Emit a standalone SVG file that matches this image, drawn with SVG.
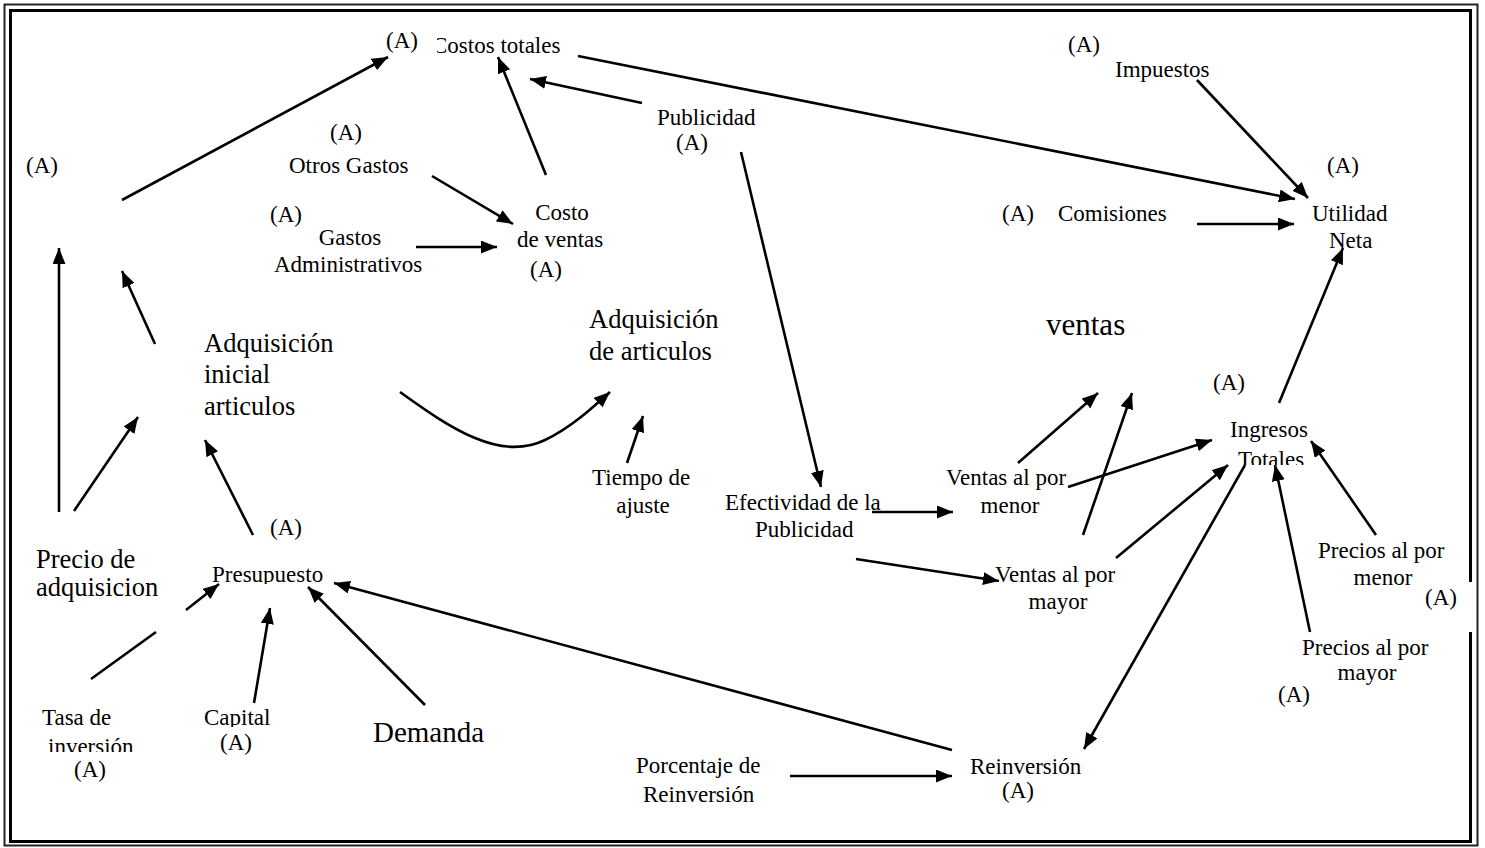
<svg xmlns="http://www.w3.org/2000/svg" width="1485" height="848" viewBox="0 0 1485 848">
  <style>
    text { font-family: "Liberation Serif", "Times New Roman", serif; fill: #000; }
    .s { font-size: 23px; }
    .l { font-size: 26.5px; }
    .c { text-anchor: middle; }
    .ln { stroke: #000; stroke-width: 2.6; fill: none; }
    .ar { marker-end: url(#head); }
  </style>
  <defs>
    <marker id="head" markerUnits="userSpaceOnUse" markerWidth="18" markerHeight="14" refX="16" refY="6.5" orient="auto">
      <path d="M0,0 L16,6.5 L0,13 Z" fill="#000"/>
    </marker>
    <clipPath id="clipCostos"><rect x="437" y="20" width="200" height="50"/></clipPath>
    <clipPath id="clipPresup"><rect x="200" y="555" width="140" height="29"/></clipPath>
    <clipPath id="clipTotales"><rect x="1230" y="445" width="90" height="20"/></clipPath>
    <clipPath id="clipCapital"><rect x="195" y="700" width="90" height="27"/></clipPath>
    <clipPath id="clipInversion"><rect x="40" y="730" width="110" height="22"/></clipPath>
  </defs>

  <rect width="1485" height="848" fill="#fff"/>

  <!-- double frame; inner line interrupted on the right -->
  <g id="frame" fill="none">
    <rect x="4.5" y="4.5" width="1473" height="841" stroke="#222" stroke-width="2"/>
    <path d="M1470.5,582 L1470.5,10.5 L10.5,10.5 L10.5,841.5 L1470.5,841.5 L1470.5,632" stroke="#000" stroke-width="3"/>
  </g>

  <!-- connectors -->
  <g id="connectors">
    <line class="ln ar" x1="122" y1="200" x2="388" y2="57"/>
    <line class="ln ar" x1="642" y1="103" x2="530" y2="79"/>
    <line class="ln ar" x1="546" y1="175" x2="498" y2="57"/>
    <line class="ln ar" x1="578" y1="56" x2="1295" y2="199"/>
    <line class="ln ar" x1="1197" y1="80" x2="1308" y2="198"/>
    <line class="ln ar" x1="1197" y1="224" x2="1294" y2="224"/>
    <line class="ln ar" x1="1279" y1="403" x2="1343" y2="248"/>
    <line class="ln ar" x1="432" y1="176" x2="513" y2="224"/>
    <line class="ln ar" x1="416" y1="247" x2="497" y2="247"/>
    <line class="ln ar" x1="741" y1="152" x2="821" y2="487"/>
    <line class="ln ar" x1="59" y1="512" x2="59" y2="248"/>
    <line class="ln ar" x1="155" y1="344" x2="122" y2="271"/>
    <line class="ln ar" x1="74" y1="511" x2="138" y2="417"/>
    <line class="ln ar" x1="253" y1="535" x2="205" y2="440"/>
    <path class="ln ar" d="M400,392 C450,428 500,462 545,440 C570,428 590,410 610,392"/>
    <line class="ln ar" x1="627" y1="463" x2="643" y2="416"/>
    <line class="ln ar" x1="872" y1="512" x2="953" y2="512"/>
    <line class="ln ar" x1="856" y1="559" x2="999" y2="581"/>
    <line class="ln ar" x1="1018" y1="463" x2="1098" y2="393"/>
    <line class="ln ar" x1="1083" y1="535" x2="1132" y2="393"/>
    <line class="ln ar" x1="1068" y1="487" x2="1212" y2="440"/>
    <line class="ln ar" x1="1116" y1="558" x2="1228" y2="465"/>
    <line class="ln ar" x1="1245" y1="465" x2="1084" y2="749"/>
    <line class="ln ar" x1="1376" y1="535" x2="1311" y2="441"/>
    <line class="ln ar" x1="1310" y1="632" x2="1275" y2="465"/>
    <line class="ln ar" x1="952" y1="750" x2="334" y2="583"/>
    <line class="ln ar" x1="790" y1="776" x2="952" y2="776"/>
    <line class="ln" x1="91" y1="679" x2="156" y2="632"/>
    <line class="ln ar" x1="186" y1="610" x2="219" y2="584"/>
    <line class="ln ar" x1="254" y1="703" x2="270" y2="608"/>
    <line class="ln ar" x1="425" y1="705" x2="308" y2="587"/>
  </g>

  <!-- nodes -->
  <g id="costos-totales">
    <text class="s" x="386" y="48">(A)</text>
    <text class="s" x="432" y="53" clip-path="url(#clipCostos)">Costos totales</text>
  </g>
  <g id="publicidad">
    <text class="s" x="657" y="125">Publicidad</text>
    <text class="s" x="676" y="150">(A)</text>
  </g>
  <g id="otros-gastos">
    <text class="s" x="330" y="140">(A)</text>
    <text class="s" x="289" y="173">Otros Gastos</text>
  </g>
  <g id="nodo-a-izq">
    <text class="s" x="26" y="173">(A)</text>
  </g>
  <g id="gastos-administrativos">
    <text class="s" x="270" y="222">(A)</text>
    <text class="s c" x="350" y="245">Gastos</text>
    <text class="s" x="274" y="272">Administrativos</text>
  </g>
  <g id="costo-ventas">
    <text class="s c" x="562" y="220">Costo</text>
    <text class="s" x="517" y="247">de ventas</text>
    <text class="s" x="530" y="277">(A)</text>
  </g>
  <g id="impuestos">
    <text class="s" x="1068" y="52">(A)</text>
    <text class="s" x="1115" y="77">Impuestos</text>
  </g>
  <g id="comisiones">
    <text class="s" x="1002" y="221">(A)</text>
    <text class="s" x="1058" y="221">Comisiones</text>
  </g>
  <g id="utilidad-neta">
    <text class="s" x="1327" y="173">(A)</text>
    <text class="s" x="1312" y="221">Utilidad</text>
    <text class="s" x="1329" y="248">Neta</text>
  </g>
  <g id="adquisicion-inicial">
    <text class="l" x="204" y="352">Adquisición</text>
    <text class="l" x="204" y="383">inicial</text>
    <text class="l" x="204" y="415">articulos</text>
  </g>
  <g id="adquisicion-articulos">
    <text class="l" x="589" y="328">Adquisición</text>
    <text class="l" x="589" y="360">de articulos</text>
  </g>
  <g id="ventas">
    <text x="1046" y="335" style="font-size:31px">ventas</text>
  </g>
  <g id="precio-adquisicion">
    <text class="l" x="36" y="568">Precio de</text>
    <text class="l" x="36" y="596">adquisicion</text>
  </g>
  <g id="presupuesto">
    <text class="s" x="270" y="535">(A)</text>
    <text class="s" x="212" y="582" clip-path="url(#clipPresup)">Presupuesto</text>
  </g>
  <g id="tiempo-ajuste">
    <text class="s" x="592" y="485">Tiempo de</text>
    <text class="s c" x="643" y="513">ajuste</text>
  </g>
  <g id="efectividad-publicidad">
    <text class="s" x="725" y="510">Efectividad de la</text>
    <text class="s" x="755" y="537">Publicidad</text>
  </g>
  <g id="ventas-menor">
    <text class="s" x="946" y="485">Ventas al por</text>
    <text class="s c" x="1010" y="513">menor</text>
  </g>
  <g id="ventas-mayor">
    <text class="s" x="995" y="582">Ventas al por</text>
    <text class="s c" x="1058" y="609">mayor</text>
  </g>
  <g id="ingresos-totales">
    <text class="s" x="1213" y="390">(A)</text>
    <text class="s" x="1230" y="437">Ingresos</text>
    <text class="s" x="1238" y="467" clip-path="url(#clipTotales)">Totales</text>
  </g>
  <g id="precios-menor">
    <text class="s" x="1318" y="558">Precios al por</text>
    <text class="s c" x="1383" y="585">menor</text>
    <text class="s" x="1425" y="605">(A)</text>
  </g>
  <g id="precios-mayor">
    <text class="s" x="1302" y="655">Precios al por</text>
    <text class="s c" x="1367" y="680">mayor</text>
    <text class="s" x="1278" y="702">(A)</text>
  </g>
  <g id="reinversion">
    <text class="s" x="970" y="774">Reinversión</text>
    <text class="s" x="1002" y="798">(A)</text>
  </g>
  <g id="porcentaje-reinversion">
    <text class="s" x="636" y="773">Porcentaje de</text>
    <text class="s" x="643" y="802">Reinversión</text>
  </g>
  <g id="tasa-inversion">
    <text class="s" x="42" y="725">Tasa de</text>
    <text class="s" x="48" y="754" clip-path="url(#clipInversion)">inversión</text>
    <text class="s" x="74" y="777">(A)</text>
  </g>
  <g id="capital">
    <text class="s" x="204" y="725" clip-path="url(#clipCapital)">Capital</text>
    <text class="s" x="220" y="750">(A)</text>
  </g>
  <g id="demanda">
    <text x="373" y="742" style="font-size:29px">Demanda</text>
  </g>
</svg>
